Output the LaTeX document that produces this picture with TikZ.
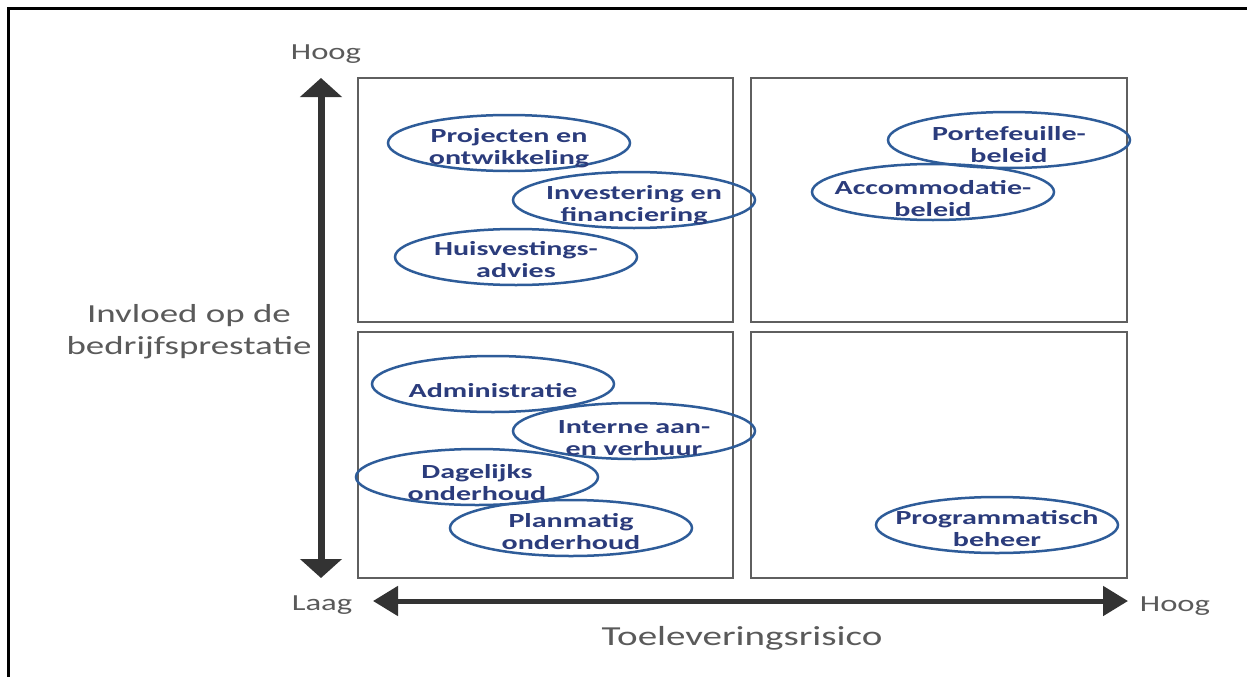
\documentclass[tikz,border=0pt]{standalone}
\usepackage{fontspec}
\setmainfont{Carlito}
\newfontfamily\axisfont[FakeStretch=1.42]{Carlito}
\newfontfamily\ovalfont[FakeStretch=1.5]{Carlito}
\usetikzlibrary{arrows.meta,shapes.geometric}
\definecolor{ovalline}{HTML}{2E5C99}
\definecolor{ovaltext}{HTML}{2B3C7C}
\definecolor{axistext}{HTML}{5A5A5A}
\definecolor{arrowcol}{HTML}{333333}
\definecolor{boxcol}{HTML}{5F5F5F}
\begin{document}
\begin{tikzpicture}[x=1pt,y=-1pt,
  oval/.style={draw=ovalline, line width=2.5pt, ellipse, minimum width=242pt, minimum height=56pt, inner sep=0pt},
  ovaltxt/.style={text=ovaltext, font=\ovalfont\bfseries\fontsize{20}{22}\selectfont, align=center, inner sep=0pt},
  quad/.style={draw=boxcol, line width=1.6pt},
  axislbl/.style={text=axistext, font=\axisfont\fontsize{23}{26}\selectfont, inner sep=0pt, align=center},
  varrow/.style={draw=arrowcol, line width=7pt, {Triangle[width=41pt,length=19pt]}-{Triangle[width=41pt,length=19pt]}},
  harrow/.style={draw=arrowcol, line width=5pt, {Triangle[width=29pt,length=25pt]}-{Triangle[width=29pt,length=25pt]}},
  frameline/.style={draw=black, line width=3.5pt}
]
\useasboundingbox (0,0) rectangle (1247,677);
\fill[white] (0,0) rectangle (1247,677);
% frame (top and left edges)
\draw[frameline] (8.5,677) -- (8.5,8.5) -- (1247,8.5);

% quadrants
\draw[quad] (358,78) rectangle (733,322);
\draw[quad] (751,78) rectangle (1127,322);
\draw[quad] (358,332) rectangle (733,578);
\draw[quad] (751,332) rectangle (1127,578);

% axes
\coordinate (ytop) at (321,78);
\coordinate (ybot) at (321,578);
\coordinate (xleft) at (373,601);
\coordinate (xright) at (1128,601);
\draw[varrow] (ybot) -- (ytop);
\draw[harrow] (xleft) -- (xright);

% axis labels
\node[axislbl] (yhigh) at (326,54) {Hoog};
\node[axislbl] (ylow) at (322,605) {Laag};
\node[axislbl] (xhigh) at (1175,606) {Hoog};
\node[axislbl, font=\axisfont\fontsize{27.5}{30}\selectfont] (xlabel) at (742,638) {Toeleveringsrisico};
\node[axislbl, font=\axisfont\fontsize{26}{32}\selectfont] (ylabel) at (189,332) {Invloed op de\\bedrijfsprestatie};

% ovals
\node[oval] (o1) at (509,143) {};
\node[ovaltxt] (t1) at (509,148) {Projecten en\\ontwikkeling};
\node[oval] (o2) at (634,200) {};
\node[ovaltxt] (t2) at (634,205) {Investering en\\financiering};
\node[oval] (o3) at (516,257) {};
\node[ovaltxt] (t3) at (516,260) {Huisvestings-\\advies};
\node[oval] (o4) at (1009,140) {};
\node[ovaltxt] (t4) at (1009,145) {Portefeuille-\\beleid};
\node[oval] (o5) at (933,192) {};
\node[ovaltxt] (t5) at (933,199) {Accommodatie-\\beleid};
\node[oval] (o6) at (493,384) {};
\node[ovaltxt] (t6) at (493,391) {Administratie};
\node[oval] (o7) at (634,431) {};
\node[ovaltxt] (t7) at (634,438) {Interne aan-\\en verhuur};
\node[oval] (o8) at (477,477) {};
\node[ovaltxt] (t8) at (477,483) {Dagelijks\\onderhoud};
\node[oval] (o9) at (571,528) {};
\node[ovaltxt] (t9) at (571,532) {Planmatig\\onderhoud};
\node[oval] (o10) at (997,525) {};
\node[ovaltxt] (t10) at (997,529) {Programmatisch\\beheer};
\end{tikzpicture}
\end{document}
